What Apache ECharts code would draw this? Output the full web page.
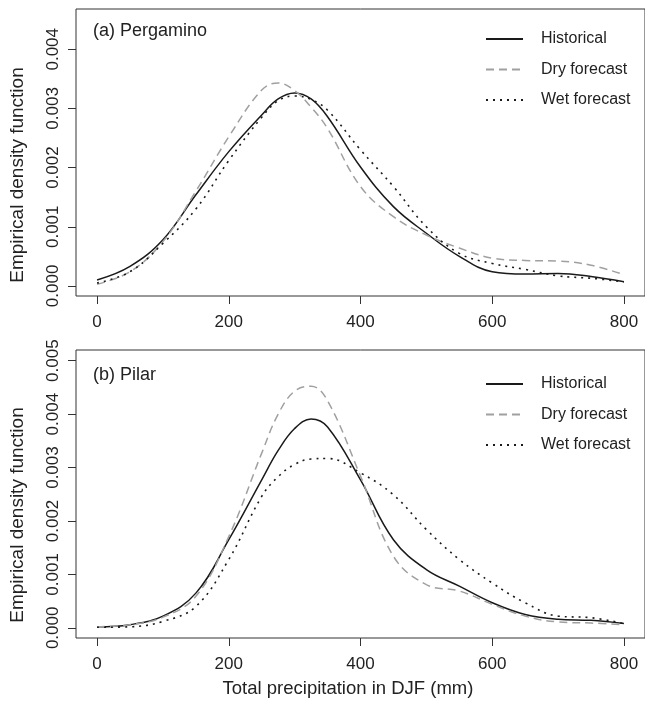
<!DOCTYPE html>
<html>
<head>
<meta charset="utf-8">
<script src="https://cdn.jsdelivr.net/npm/echarts@6/dist/echarts.min.js"></script>
<style>html,body{margin:0;padding:0;background:#fff;}#c{width:645px;height:705px;}</style>
</head>
<body>
<div id="c"></div>
<script>
var precip = [0,50,100,150,200,250,275,300,325,350,400,450,500,550,600,650,700,750,800];
var xTicks = [0,200,400,600,800];
var yTicksA = [0,0.001,0.002,0.003,0.004];
var yTicksB = [0,0.001,0.002,0.003,0.004,0.005];
var seriesNames = ['Historical','Dry forecast','Wet forecast'];

// (a) Pergamino
var pergHist = [0.00010,0.00033,0.00078,0.00154,0.00227,0.00289,0.00316,0.00326,0.00316,0.00286,0.00201,0.00134,0.00089,0.00050,0.00024,0.00020,0.00021,0.00016,0.00007];
var pergDry  = [0.00003,0.00024,0.00075,0.00160,0.00252,0.00331,0.00343,0.00330,0.00302,0.00266,0.00168,0.00117,0.00086,0.00064,0.00047,0.00043,0.00042,0.00035,0.00019];
var pergWet  = [0.00005,0.00024,0.00072,0.00130,0.00212,0.00285,0.00313,0.00321,0.00315,0.00297,0.00230,0.00168,0.00100,0.00055,0.00038,0.00028,0.00017,0.00013,0.00007];
// (b) Pilar
var pilHist = [0.00002,0.00006,0.00022,0.00065,0.00165,0.00277,0.00332,0.00373,0.00391,0.00376,0.00277,0.00165,0.00109,0.00078,0.00047,0.00025,0.00016,0.00014,0.00008];
var pilDry  = [0.00002,0.00006,0.00020,0.00059,0.00171,0.00327,0.00400,0.00443,0.00452,0.00425,0.00284,0.00134,0.00081,0.00069,0.00044,0.00022,0.00011,0.00009,0.00006];
var pilWet  = [0.00001,0.00002,0.00012,0.00040,0.00128,0.00246,0.00283,0.00306,0.00316,0.00317,0.00290,0.00249,0.00184,0.00128,0.00084,0.00047,0.00022,0.00019,0.00008];

function pairs(ys){ return precip.map(function(x,i){ return [x, ys[i]]; }); }

var FONT = '"Liberation Sans", Arial, Helvetica, sans-serif';
var styles = [
  {color:'#1a1a1a', width:1.5, type:'solid'},
  {color:'#a0a0a0', width:1.5, type:[8,5]},
  {color:'#1a1a1a', width:1.6, type:[2,5]}
];

function mkX(idx){
  return {
    type:'value', gridIndex:idx, min:-32, max:832, position:'bottom',
    axisLine:{show:false, onZero:false},
    splitLine:{show:false},
    axisTick:{show:true, inside:false, length:8, lineStyle:{color:'#333'}, customValues:xTicks},
    axisLabel:{show:true, margin:18, fontSize:17, color:'#222', fontFamily:FONT, customValues:xTicks}
  };
}
function mkY(idx, min, max, ticks){
  return {
    type:'value', gridIndex:idx, min:min, max:max, position:'left',
    axisLine:{show:false, onZero:false},
    splitLine:{show:false},
    axisTick:{show:true, inside:false, length:8, lineStyle:{color:'#333'}, customValues:ticks},
    axisLabel:{show:true, rotate:90, margin:14, fontSize:17, color:'#222', fontFamily:FONT,
      customValues:ticks, formatter:function(v){ return v.toFixed(3); }}
  };
}
function mkSeries(name, data, st, idx){
  return {
    type:'line', name:name, xAxisIndex:idx, yAxisIndex:idx,
    data:pairs(data), smooth:0.4, symbol:'none', showSymbol:false,
    lineStyle:{color:st.color, width:st.width, type:st.type},
    itemStyle:{color:st.color},
    emphasis:{disabled:true}, silent:true, animation:false
  };
}
function mkLegend(top){
  return {
    orient:'vertical', left:485, top:top, itemWidth:37, itemHeight:14, itemGap:14.5,
    padding:0, data:seriesNames, selectedMode:false,
    itemStyle:{opacity:0},
    textStyle:{fontSize:16, color:'#222', fontFamily:FONT, padding:[0,0,0,13]}
  };
}

var chart = echarts.init(document.getElementById('c'), null, {renderer:'canvas'});
chart.setOption({
  animation:false,
  backgroundColor:'#fff',
  grid:[
    {left:76, top:9, width:572, height:287, show:true, borderColor:'#333', borderWidth:1, backgroundColor:'transparent'},
    {left:76, top:350, width:572, height:288, show:true, borderColor:'#333', borderWidth:1, backgroundColor:'transparent'}
  ],
  xAxis:[mkX(0), mkX(1)],
  yAxis:[mkY(0,-0.00017,0.00468,yTicksA), mkY(1,-0.00019,0.0052,yTicksB)],
  legend:[mkLegend(31), mkLegend(376)],
  series:[
    mkSeries(seriesNames[0], pergHist, styles[0], 0),
    mkSeries(seriesNames[1], pergDry, styles[1], 0),
    mkSeries(seriesNames[2], pergWet, styles[2], 0),
    mkSeries(seriesNames[0], pilHist, styles[0], 1),
    mkSeries(seriesNames[1], pilDry, styles[1], 1),
    mkSeries(seriesNames[2], pilWet, styles[2], 1)
  ],
  graphic:[
    {type:'text', left:93, top:22, style:{text:'(a) Pergamino', fontSize:18, fill:'#222', fontFamily:FONT}},
    {type:'text', left:93, top:366, style:{text:'(b) Pilar', fontSize:18, fill:'#222', fontFamily:FONT}},
    {type:'text', x:18, y:175, rotation:Math.PI/2, style:{text:'Empirical density function', fontSize:19, fill:'#222', fontFamily:FONT, align:'center', verticalAlign:'middle'}},
    {type:'text', x:18, y:515, rotation:Math.PI/2, style:{text:'Empirical density function', fontSize:19, fill:'#222', fontFamily:FONT, align:'center', verticalAlign:'middle'}},
    {type:'text', x:348, y:689, style:{text:'Total precipitation in DJF (mm)', fontSize:18.5, fill:'#222', fontFamily:FONT, align:'center', verticalAlign:'middle'}}
  ]
});
</script>
</body>
</html>
